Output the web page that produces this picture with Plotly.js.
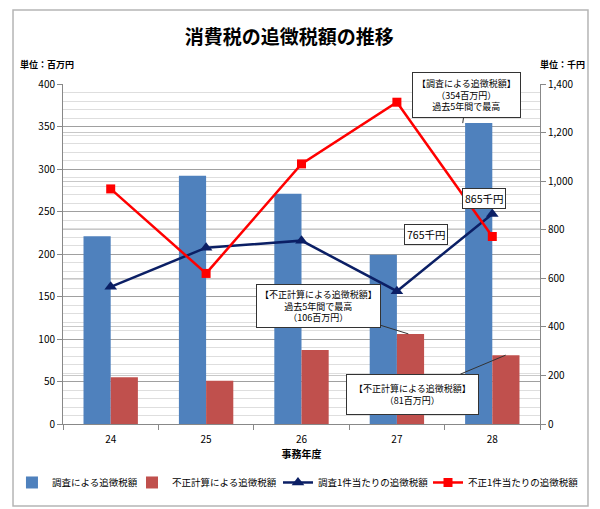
<!DOCTYPE html>
<html><head><meta charset="utf-8">
<script src="https://cdn.plot.ly/plotly-3.0.1.min.js"></script>
<style>html,body{margin:0;padding:0;background:#fff}#chart{width:600px;height:509px}</style>
</head><body><div id="chart"></div>
<script>
const years = ['24','25','26','27','28'];
const surveyTax = [221, 292, 271, 199, 354];
const fraudTax = [55, 51, 87, 106, 81];
const surveyPerCase = [565, 726, 755, 547, 865];
const fraudPerCase = [968, 620, 1071, 1325, 772];
const seriesNames = ['調査による追徴税額','不正計算による追徴税額','調査1件当たりの追徴税額','不正1件当たりの追徴税額'];

const FONT = '"Noto Sans CJK JP", "Noto Sans", sans-serif';
const traces = [
  {type:'bar', x:years, y:surveyTax, name:seriesNames[0], marker:{color:'#4F81BD'}, yaxis:'y', legend:'legend'},
  {type:'bar', x:years, y:fraudTax, name:seriesNames[1], marker:{color:'#C0504D'}, yaxis:'y', legend:'legend2'},
  {type:'scatter', mode:'lines+markers', x:years, y:surveyPerCase, name:seriesNames[2], yaxis:'y2', legend:'legend3',
   line:{color:'#0B1F65', width:2.5}, marker:{symbol:'triangle-up', size:11, color:'#0B1F65'}},
  {type:'scatter', mode:'lines+markers', x:years, y:fraudPerCase, name:seriesNames[3], yaxis:'y2', legend:'legend4',
   line:{color:'#FF0000', width:2.5}, marker:{symbol:'square', size:9, color:'#FF0000'}}
];

function leg(x){
  return {orientation:'h', x:x, xanchor:'left', y:-0.172, yanchor:'middle', font:{family:FONT, size:9.5}, itemwidth:30, bgcolor:'rgba(0,0,0,0)'};
}
const calloutFont = {family:FONT, size:9, color:'#000'};
const layout = {
  width:600, height:509,
  margin:{l:63, r:60, t:84, b:85, autoexpand:false},
  paper_bgcolor:'#fff', plot_bgcolor:'#fff',
  font:{family:FONT, size:10, color:'#000'},
  title:{text:'<b>消費税の追徴税額の推移</b>', font:{family:FONT, size:19, color:'#000'}, x:0.482, xanchor:'center', y:0.927, yanchor:'middle'},
  barmode:'group', bargap:0.43, bargroupgap:0,
  showlegend:true,
  legend:leg(-0.107), legend2:leg(0.1447), legend3:leg(0.4507), legend4:leg(0.7652),
  xaxis:{type:'category', showline:true, linecolor:'#888', ticks:'outside', tickson:'boundaries', ticklen:5, tickcolor:'#888',
         ticklabelstandoff:6, tickfont:{size:10}, title:{text:'<b>事務年度</b>', font:{size:10}, standoff:5}, showgrid:false},
  yaxis:{range:[0,400], dtick:50, showline:true, linecolor:'#888', ticks:'outside', ticklen:5, tickcolor:'#888',
         gridcolor:'#a0a0a0', gridwidth:1, tickfont:{size:10}, zeroline:false,
         minor:{dtick:10, showgrid:true, gridcolor:'#dedede', gridwidth:1}},
  yaxis2:{overlaying:'y', side:'right', range:[0,1400], dtick:200, tickformat:',d', showline:true, linecolor:'#888',
          ticks:'outside', ticklen:5, tickcolor:'#888', showgrid:true, gridcolor:'#c8c8c8', tickfont:{size:10}, zeroline:false},
  shapes:[
    {type:'rect', xref:'paper', yref:'paper', x0:-0.1048, x1:1.1006, y0:-0.241, y1:1.2176, line:{color:'#b5b5b5', width:1.5}, layer:'below'}
  ],
  annotations:[
    {xref:'paper', yref:'paper', x:-0.095, y:1.058, xanchor:'left', yanchor:'middle', text:'<b>単位：百万円</b>', showarrow:false, font:{family:FONT, size:9}},
    {xref:'paper', yref:'paper', x:0.995, y:1.058, xanchor:'left', yanchor:'middle', text:'<b>単位：千円</b>', showarrow:false, font:{family:FONT, size:9}},
    {xref:'x', yref:'y', x:3.69, y:354, ax:4, ay:-28, text:'【調査による追徴税額】<br>（354百万円）<br>過去5年間で最高',
     showarrow:true, arrowhead:0, arrowwidth:1, arrowcolor:'#333', bordercolor:'#333', borderwidth:1, borderpad:4, bgcolor:'#fff', font:calloutFont},
    {xref:'x', yref:'y', x:3.12, y:106, ax:-90, ay:-28, text:'【不正計算による追徴税額】<br>過去5年間で最高<br>（106百万円）',
     showarrow:true, arrowhead:0, arrowwidth:1, arrowcolor:'#333', bordercolor:'#333', borderwidth:1, borderpad:3, bgcolor:'#fff', font:calloutFont},
    {xref:'x', yref:'y', x:4.14, y:81, ax:-93, ay:39, text:'【不正計算による追徴税額】<br>（81百万円）',
     showarrow:true, arrowhead:0, arrowwidth:1, arrowcolor:'#333', bordercolor:'#333', borderwidth:1, borderpad:7, bgcolor:'#fff', font:calloutFont},
    {xref:'paper', yref:'paper', x:0.9287, y:0.6618, text:surveyPerCase[4]+'千円', showarrow:false,
     bordercolor:'#333', borderwidth:1, borderpad:2, bgcolor:'#fff', font:{family:FONT, size:10.5}},
    {xref:'paper', yref:'paper', x:0.807, y:0.556, text:'765千円', showarrow:false,
     bordercolor:'#333', borderwidth:1, borderpad:2, bgcolor:'#fff', font:{family:FONT, size:10.5}}
  ]
};
Plotly.newPlot('chart', traces, layout, {displayModeBar:false, staticPlot:true});
</script></body></html>
